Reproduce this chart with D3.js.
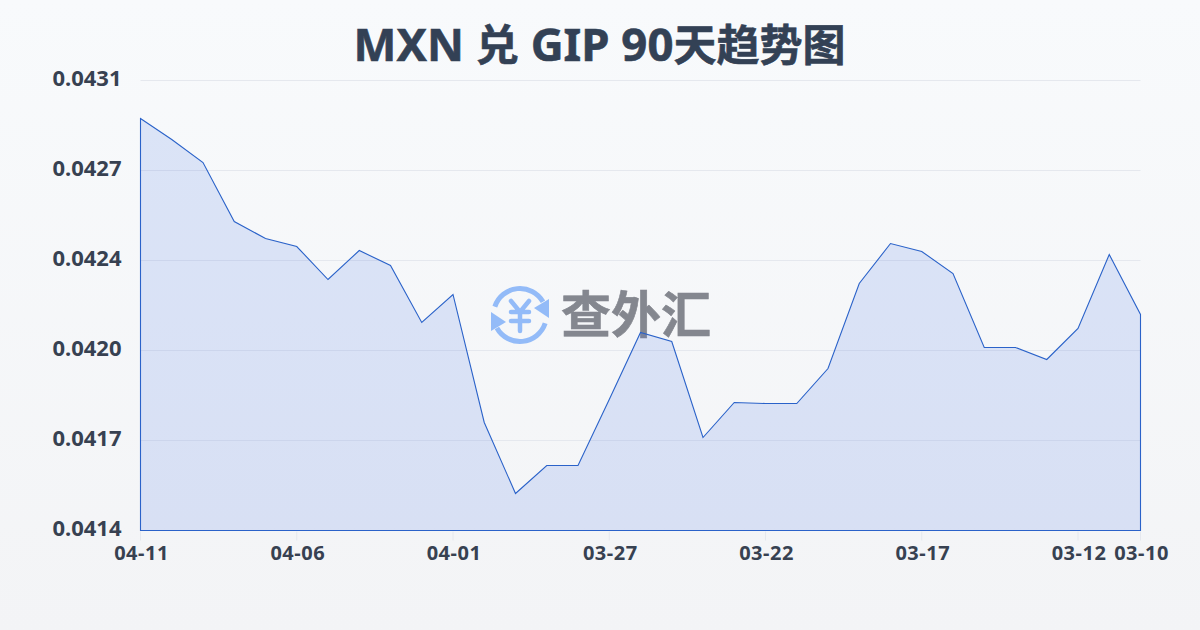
<!DOCTYPE html>
<html><head><meta charset="utf-8">
<script src="https://cdn.jsdelivr.net/npm/d3@7"></script>
<style>html,body{margin:0;padding:0;background:#f6f8fa}svg{display:block}
text{font-family:"Noto Sans","Noto Sans CJK SC",sans-serif;font-weight:700}</style>
</head><body><div id="chart"></div>
<script>
const titleParts = [["MXN ",45.5],["兑",43],[" GIP 90",45.5],["天趋势图",43]];
const dates = ["04-11","04-10","04-09","04-08","04-07","04-06","04-05","04-04","04-03","04-02","04-01","03-31","03-30","03-29","03-28","03-27","03-26","03-25","03-24","03-23","03-22","03-21","03-20","03-19","03-18","03-17","03-16","03-15","03-14","03-13","03-12","03-11","03-10"];
const rates = [0.0429564,0.0428771,0.0427902,0.0425673,0.0425031,0.0424729,0.0423482,0.0424578,0.0424011,0.0421858,0.0422916,0.041808,0.0415398,0.0416456,0.0416456,0.0418949,0.042148,0.042114,0.0417513,0.0418836,0.0418798,0.0418798,0.042012,0.0423331,0.0424842,0.042454,0.0423709,0.0420913,0.0420913,0.042046,0.0421631,0.0424427,0.042216];
const xTickDates = ["04-11","04-06","04-01","03-27","03-22","03-17","03-12","03-10"];
const yTickLabels = ["0.0414","0.0417","0.0420","0.0424","0.0427","0.0431"];
const yDomain = [0.0414,0.0431];

const W=1200,H=630,L=140.5,R=1140.5,T=80.5,B=530.5;
const svg=d3.select("#chart").append("svg").attr("width",W).attr("height",H);
const defs=svg.append("defs");
const bg=defs.append("linearGradient").attr("id","bg").attr("x1",0).attr("y1",0).attr("x2",0).attr("y2",1);
bg.append("stop").attr("offset",0).attr("stop-color","#f8fafc");
bg.append("stop").attr("offset",1).attr("stop-color","#f3f4f6");
svg.append("rect").attr("width",W).attr("height",H).attr("fill","url(#bg)");

const x=d3.scalePoint().domain(dates).range([L,R]);
const y=d3.scaleLinear().domain(yDomain).range([B,T]);
const yTick=d3.scalePoint().domain(yTickLabels).range([B,T]);

// watermark
const wm=svg.append("g").attr("class","watermark");
const ic=wm.append("g").attr("transform","translate(520,315)").attr("fill","none").attr("stroke","#93bbf8").attr("stroke-width",5).attr("stroke-linecap","round");
ic.append("path").attr("d",d3.arc()({innerRadius:26.5,outerRadius:26.5,startAngle:-1.25,endAngle:1.05}));
ic.append("path").attr("d",d3.arc()({innerRadius:26.5,outerRadius:26.5,startAngle:1.89,endAngle:4.2}));
ic.append("path").attr("d","M-9,-14L0,-3L9,-14M-9,-3H9M-9,6H9M0,-3V16").attr("stroke-width",4.5);
ic.append("path").attr("d","M29,-16L29,3L14,-7Z").attr("fill","#93bbf8").attr("stroke","none");
ic.append("path").attr("d","M-29,16L-29,-3L-14,7Z").attr("fill","#93bbf8").attr("stroke","none");
wm.append("text").attr("x",636).attr("y",333).attr("text-anchor","middle").attr("font-size",50).attr("fill","#84878f").attr("stroke","#84878f").attr("stroke-width",.6).text("查外汇");

// grid
svg.append("g").selectAll("line").data(yTickLabels).join("line")
 .attr("x1",L).attr("x2",R).attr("y1",d=>yTick(d)).attr("y2",d=>yTick(d)).attr("stroke","#e5e8ee").attr("stroke-width",1);

// area
const area=d3.area().x((d,i)=>x(dates[i])).y0(B).y1(d=>y(d));
svg.append("path").datum(rates).attr("d",area).attr("fill","rgba(59,110,225,0.15)").attr("stroke","#2a62c9").attr("stroke-width",1.1).attr("stroke-linejoin","miter");

// x ticks
svg.append("g").selectAll("line").data(xTickDates).join("line")
 .attr("x1",d=>x(d)).attr("x2",d=>x(d)).attr("y1",B+1).attr("y2",B+10).attr("stroke","#e5e8ee");
svg.append("g").selectAll("text").data(xTickDates).join("text")
 .attr("x",d=>x(d)+1).attr("y",560).attr("text-anchor","middle").attr("font-size",20).attr("letter-spacing",.5).attr("fill","#374151").text(d=>d);

// y labels
svg.append("g").selectAll("text").data(yTickLabels).join("text")
 .attr("x",121.5).attr("y",d=>yTick(d)+5.5).attr("text-anchor","end").attr("font-size",22).attr("fill","#374151").text(d=>d);

svg.append("text").attr("x",599.5).attr("y",60.5).attr("text-anchor","middle").attr("fill","#334155").attr("stroke","#334155").attr("stroke-width",.6)
 .selectAll("tspan").data(titleParts).join("tspan").attr("font-size",d=>d[1]).text(d=>d[0]);
</script></body></html>
